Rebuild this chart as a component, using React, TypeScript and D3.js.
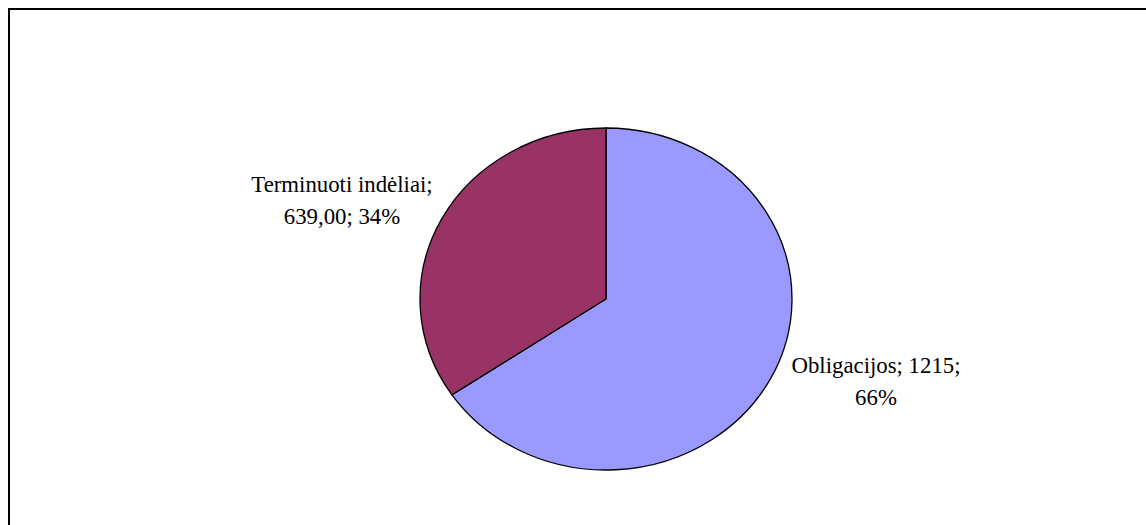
import React from "react";
import * as d3 from "d3";

const categories = ["Obligacijos", "Terminuoti indėliai"];
const values = [1215, 639];
const valueLabels = ["1215", "639,00"];
const percentLabels = ["66%", "34%"];
const colors = ["#9999FF", "#993366"];

const W = 1146;
const H = 525;

export default function App() {
  const cx = 606;
  const cy = 299;
  const rx = 186;
  const ry = 171;

  const pie = d3.pie<number>().sort(null).value((d) => d);
  const arcs = pie(values);
  const arc = d3.arc<d3.PieArcDatum<number>>().innerRadius(0).outerRadius(rx);

  const labelPos = [
    { x: 876, lines: [`${categories[0]}; ${valueLabels[0]};`, percentLabels[0]], y: 373 },
    { x: 342, lines: [`${categories[1]};`, `${valueLabels[1]}; ${percentLabels[1]}`], y: 192 },
  ];

  return (
    <svg
      width={W}
      height={H}
      style={{ position: "absolute", left: 0, top: 0, display: "block", background: "#fff" }}
    >
      <rect x={9} y={9} width={1300} height={700} fill="#fff" stroke="#000" strokeWidth={2} />
      <g transform={`translate(${cx},${cy}) scale(1,${ry / rx})`}>
        {arcs.map((a, i) => (
          <path
            key={i}
            d={arc(a) || ""}
            fill={colors[i]}
            stroke="#000"
            strokeWidth={1.3}
            vectorEffect="non-scaling-stroke"
          />
        ))}
      </g>
      {labelPos.map((l, i) => (
        <text
          key={i}
          textAnchor="middle"
          fontFamily="'Liberation Serif', 'Times New Roman', serif"
          fontSize={22.8}
          fill="#000"
        >
          {l.lines.map((t, j) => (
            <tspan key={j} x={l.x} y={l.y + j * 32}>
              {t}
            </tspan>
          ))}
        </text>
      ))}
    </svg>
  );
}
